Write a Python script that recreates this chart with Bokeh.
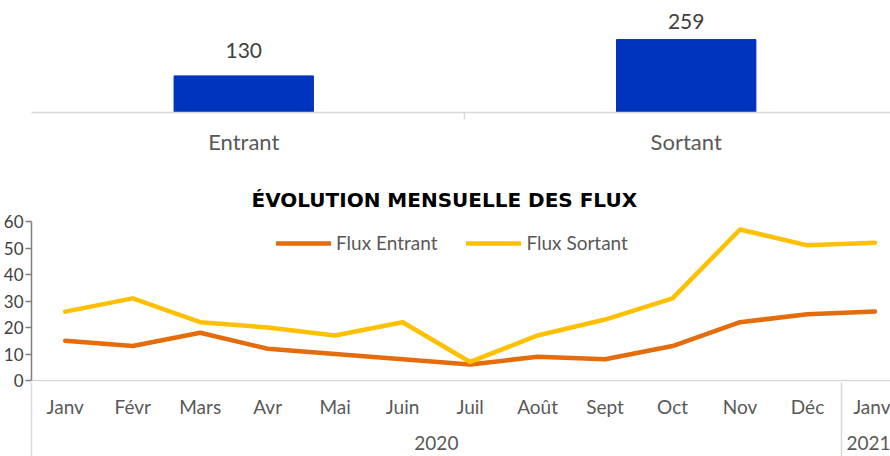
from bokeh.plotting import figure
from bokeh.models import Range1d, LinearAxis, FixedTicker
from bokeh.layouts import column
from bokeh.core.properties import value
from bokeh.embed import file_html
from bokeh.resources import INLINE

# ---- data ----
flux_categories = ["Entrant", "Sortant"]
flux_totals = [130, 259]

months = ["Janv", "Févr", "Mars", "Avr", "Mai", "Juin", "Juil", "Août", "Sept", "Oct", "Nov", "Déc", "Janv"]
years = ["2020"] * 12 + ["2021"]
flux_entrant = [15, 13, 18, 12, 10, 8, 6, 9, 8, 13, 22, 25, 26]
flux_sortant = [26, 31, 22, 20, 17, 22, 7, 17, 23, 31, 57, 51, 52]
y_ticks = [0, 10, 20, 30, 40, 50, 60]

FONT = "Lato"
GREY_TXT = "#595959"
AXIS_LIGHT = "#d9d9d9"
W = 890

# ---- top chart: totals ----
TOP_H = 160
TOP_FRAME_H = 112
y1_end = 397.7
pos1 = list(range(len(flux_categories)))
p1 = figure(width=W, height=TOP_H, x_range=Range1d(-0.4797, 1.4617), y_range=Range1d(0, y1_end),
            x_axis_location=None, y_axis_location=None, output_backend="svg",
            toolbar_location=None, min_border_left=28, min_border_right=0,
            min_border_top=0, min_border_bottom=TOP_H - TOP_FRAME_H)
p1.outline_line_color = None
p1.xgrid.visible = False
p1.ygrid.visible = False
p1.vbar(x=pos1, top=flux_totals, width=0.315, color="#0033BE")
# data labels, kept inside the plot area like the spreadsheet does
label_cap = y1_end * (1 - 46 / TOP_FRAME_H)
label_y = [min(v, label_cap) for v in flux_totals]
p1.text(x=pos1, y=label_y, text=[str(v) for v in flux_totals], text_align="center",
        text_baseline="bottom", y_offset=-18, text_font=value(FONT), text_font_size="21px",
        text_color="#404040")
bounds = [i - 0.5 for i in pos1]
ax1 = LinearAxis(ticker=FixedTicker(ticks=pos1, minor_ticks=bounds),
                 major_label_overrides={i: c for i, c in zip(pos1, flux_categories)},
                 major_tick_in=0, major_tick_out=0, minor_tick_in=0, minor_tick_out=7,
                 minor_tick_line_color=AXIS_LIGHT, minor_tick_line_width=1.5,
                 axis_line_color=AXIS_LIGHT, axis_line_width=1.5,
                 major_label_standoff=8, major_label_text_font=FONT,
                 major_label_text_font_size="22px", major_label_text_color=GREY_TXT)
p1.add_layout(ax1, "below")

# ---- bottom chart: monthly evolution ----
idx = list(range(len(months)))
p2 = figure(width=W, height=296, x_range=Range1d(-0.5, 12.23), y_range=Range1d(0, 60),
            x_axis_location=None, output_backend="svg", toolbar_location=None,
            min_border_left=28, min_border_right=0, min_border_top=61, min_border_bottom=76)
p2.outline_line_color = None
p2.xgrid.visible = False
p2.ygrid.visible = False

p2.title.text = "ÉVOLUTION MENSUELLE DES FLUX"
p2.title.align = "left"
p2.title.offset = 220
p2.title.text_font = "DejaVu Sans"
p2.title.text_font_style = "bold"
p2.title.text_font_size = "20px"
p2.title.text_color = "#000000"
p2.title.standoff = 20

yax = p2.yaxis[0]
yax.ticker = FixedTicker(ticks=y_ticks, minor_ticks=[])
yax.major_tick_out = 6
yax.major_tick_in = 0
yax.axis_line_color = "#7f7f7f"
yax.axis_line_width = 1.5
yax.major_tick_line_color = "#7f7f7f"
yax.major_tick_line_width = 1.5
yax.major_label_standoff = 2
yax.major_label_text_font = FONT
yax.major_label_text_font_size = "17px"
yax.major_label_text_color = "#404040"

ax_m = LinearAxis(ticker=FixedTicker(ticks=idx, minor_ticks=[]),
                  major_label_overrides={i: m for i, m in zip(idx, months)},
                  major_tick_in=0, major_tick_out=0, minor_tick_in=0, minor_tick_out=0,
                  axis_line_color=AXIS_LIGHT, axis_line_width=1.5,
                  major_label_standoff=14, major_label_text_font=FONT,
                  major_label_text_font_size="19px", major_label_text_color=GREY_TXT)
p2.add_layout(ax_m, "below")

year_names = []
for y in years:
    if y not in year_names:
        year_names.append(y)
year_centers = [sum(i for i in idx if years[i] == y) / years.count(y) for y in year_names]
# group separators (start of each year group)
sep = [min(i for i in idx if years[i] == y) - 0.5 for y in year_names]
ax_y = LinearAxis(ticker=FixedTicker(ticks=year_centers, minor_ticks=sep),
                  major_label_overrides={c: y for c, y in zip(year_centers, year_names)},
                  major_tick_in=0, major_tick_out=0, axis_line_color=None,
                  major_tick_line_color=None,
                  minor_tick_in=38, minor_tick_out=37,
                  minor_tick_line_color=AXIS_LIGHT, minor_tick_line_width=1.5,
                  major_label_standoff=-22, major_label_text_font=FONT,
                  major_label_text_font_size="19px", major_label_text_color=GREY_TXT)
p2.add_layout(ax_y, "below")

p2.line(idx, flux_entrant, line_color="#E46C0A", line_width=4.5, line_join="round",
        line_cap="round", legend_label="Flux Entrant")
p2.line(idx, flux_sortant, line_color="#FFC000", line_width=4.5, line_join="round",
        line_cap="round", legend_label="Flux Sortant")

lg = p2.legend[0]
lg.orientation = "horizontal"
lg.location = (245, 126)
lg.border_line_color = None
lg.background_fill_alpha = 0
lg.label_text_font = FONT
lg.label_text_font_size = "19px"
lg.label_text_color = GREY_TXT
lg.glyph_width = 55
lg.glyph_height = 20
lg.label_standoff = 5
lg.spacing = 29
lg.padding = 0
lg.margin = 0

layout = column(p1, p2)
open("out.html", "w").write(file_html(layout, INLINE))
